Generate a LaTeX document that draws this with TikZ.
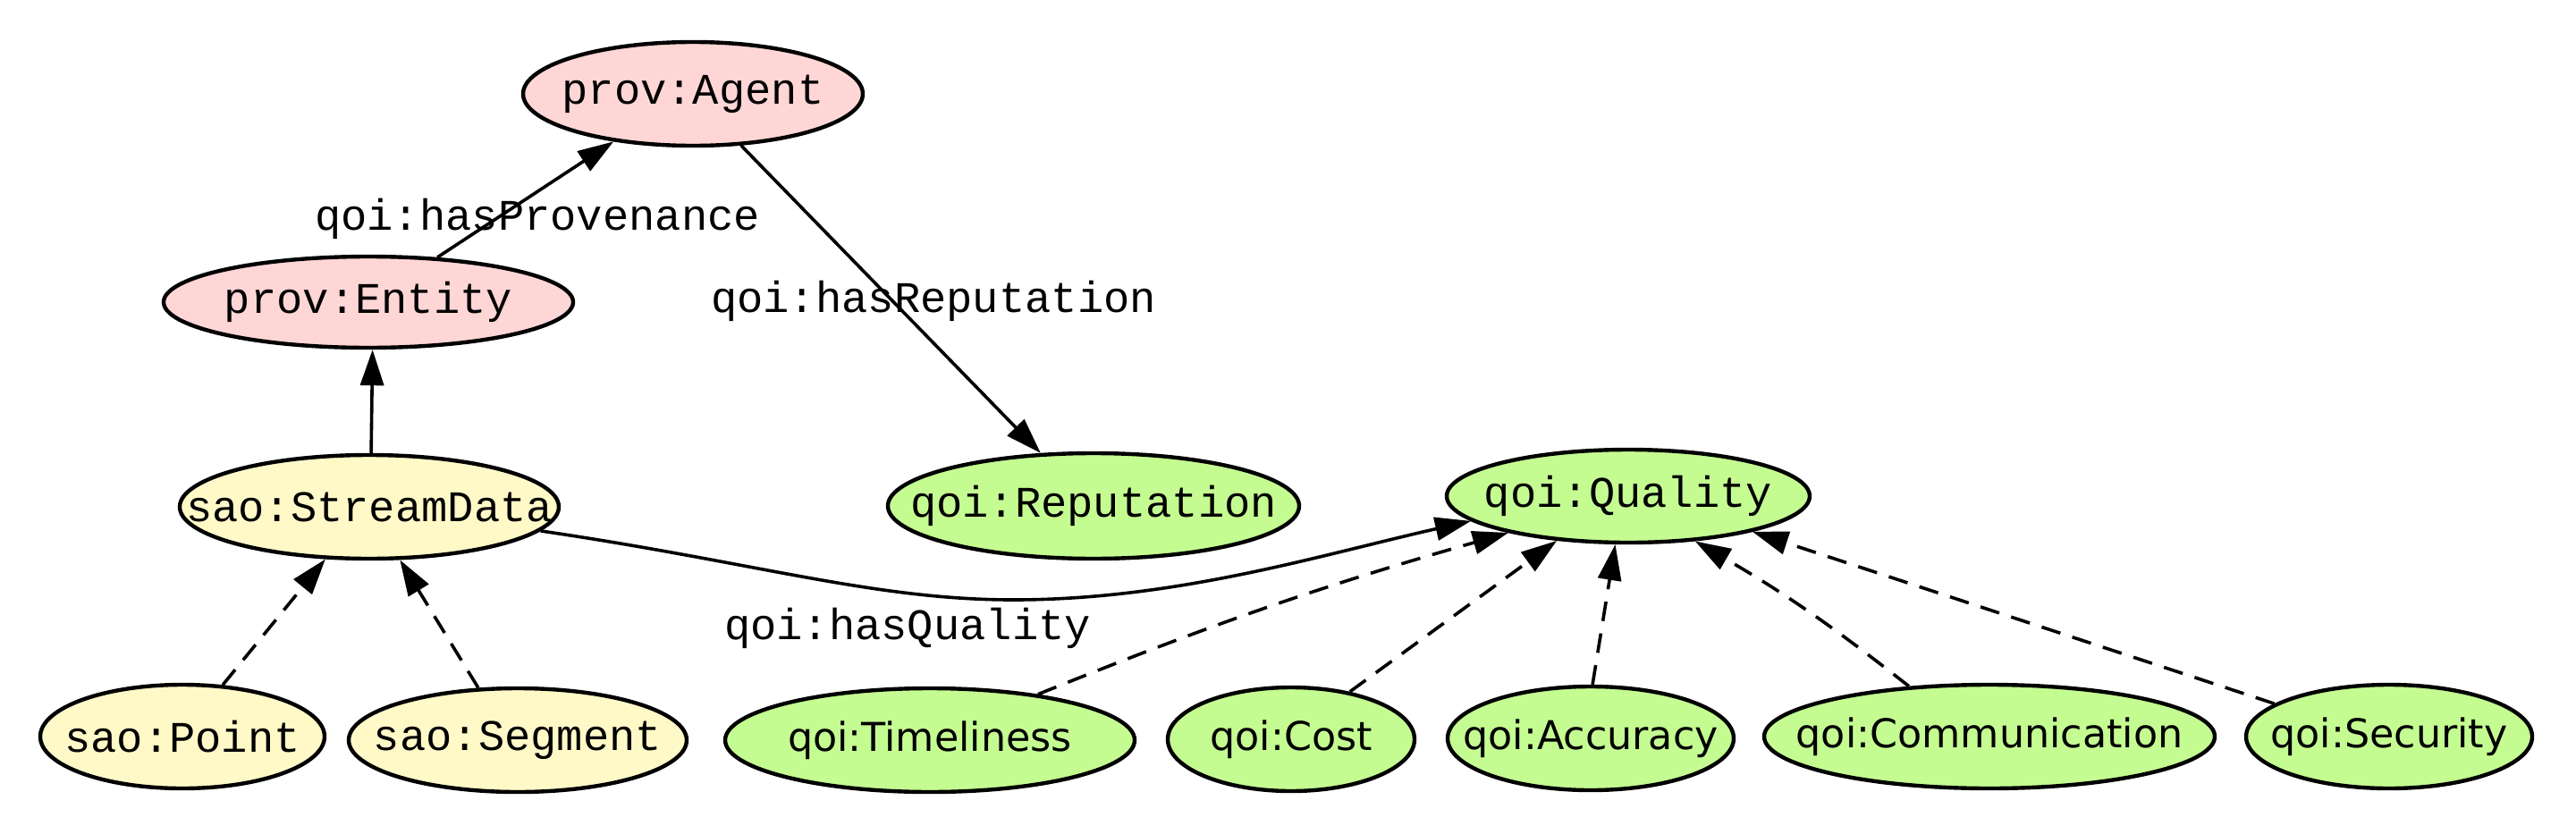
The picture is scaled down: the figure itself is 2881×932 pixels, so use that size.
\documentclass[tikz,border=0pt]{standalone}
\usepackage{fontspec}
\newfontfamily\monof{Liberation Mono}
\newfontfamily\sansf{DejaVu Sans}
\usetikzlibrary{shapes.geometric,arrows.meta}
\definecolor{pinkfill}{RGB}{255,214,214}
\definecolor{yelfill}{RGB}{255,249,200}
\definecolor{grnfill}{RGB}{196,252,146}
\newcommand{\zb}[1]{\makebox[0pt][c]{#1}}
\begin{document}
\begin{tikzpicture}[x=0.25pt,y=-0.25pt,
  nd/.style={ellipse,draw=black,line width=1.1pt,inner sep=0pt},
  mono/.style={font=\monof\fontsize{12.2}{14}\selectfont},
  sans/.style={font=\sansf\fontsize{11.1}{13}\selectfont},
  pnode/.style={nd,mono,fill=pinkfill},
  ynode/.style={nd,mono,fill=yelfill},
  gnode/.style={nd,mono,fill=grnfill},
  gsnode/.style={nd,sans,fill=grnfill},
  edge/.style={line width=0.9pt,-{Triangle[length=10pt,width=6.5pt]}},
  dashedge/.style={edge,dash pattern=on 5.5pt off 3.5pt},
  lbl/.style={mono,inner sep=0pt}]
\useasboundingbox[fill=white] (0,0) rectangle (2881,932);

\node[pnode,minimum width=95pt,minimum height=29pt] (agent) at (775,105) {\zb{prov:Agent}};
\node[pnode,minimum width=114.5pt,minimum height=25.5pt] (entity) at (412,338) {\zb{prov:Entity}};
\node[ynode,minimum width=106pt,minimum height=29pt] (stream) at (413,567) {\zb{sao:StreamData}};
\node[gnode,minimum width=115pt,minimum height=29.5pt] (rep) at (1223,566) {\zb{qoi:Reputation}};
\node[gnode,minimum width=101.5pt,minimum height=26pt] (quality) at (1821,555) {\zb{qoi:Quality}};
\node[ynode,minimum width=79.5pt,minimum height=29pt] (point) at (204,824) {\zb{sao:Point}};
\node[ynode,minimum width=94.5pt,minimum height=29pt] (segment) at (579,828) {\zb{sao:Segment}};
\node[gsnode,minimum width=114.5pt,minimum height=29pt] (tim) at (1040,828) {\zb{qoi:Timeliness}};
\node[gsnode,minimum width=69pt,minimum height=29pt] (cost) at (1444,827) {\zb{qoi:Cost}};
\node[gsnode,minimum width=80pt,minimum height=29pt] (acc) at (1779,826) {\zb{qoi:Accuracy}};
\node[gsnode,minimum width=126pt,minimum height=29pt] (comm) at (2225,824) {\zb{qoi:Communication}};
\node[gsnode,minimum width=80pt,minimum height=29pt] (sec) at (2672,824) {\zb{qoi:Security}};

% edges
\draw[edge] (entity.33) -- (agent.211);
\draw[edge] (agent.-47) -- (rep.135);
\draw[edge] (stream.88) -- (entity.-85);
\coordinate (qlow) at (1139,671);
\draw[edge] (stream.-8) .. controls (850,630) and (980,672) .. (qlow)
  .. controls (1320,670) and (1480,620) .. (quality.189);
\draw[dashedge] (point.52) -- (stream.230);
\draw[dashedge] (segment.127) -- (stream.-60);
\draw[dashedge] (tim.23) to[bend left=3] (quality.197);
\draw[dashedge] (cost.39) -- (quality.212);
\draw[dashedge] (acc.88) -- (quality.255);
\draw[dashedge] (comm.148) to[bend right=4] (quality.-34);
\draw[dashedge] (sec.164) -- (quality.-16);

% labels
\node[lbl] (lprov) at (601,245) {qoi:hasProvenance};
\node[lbl] (lrep) at (1044,337) {qoi:hasReputation};
\node[lbl] (lqual) at (1015,703) {qoi:hasQuality};
\end{tikzpicture}
\end{document}
